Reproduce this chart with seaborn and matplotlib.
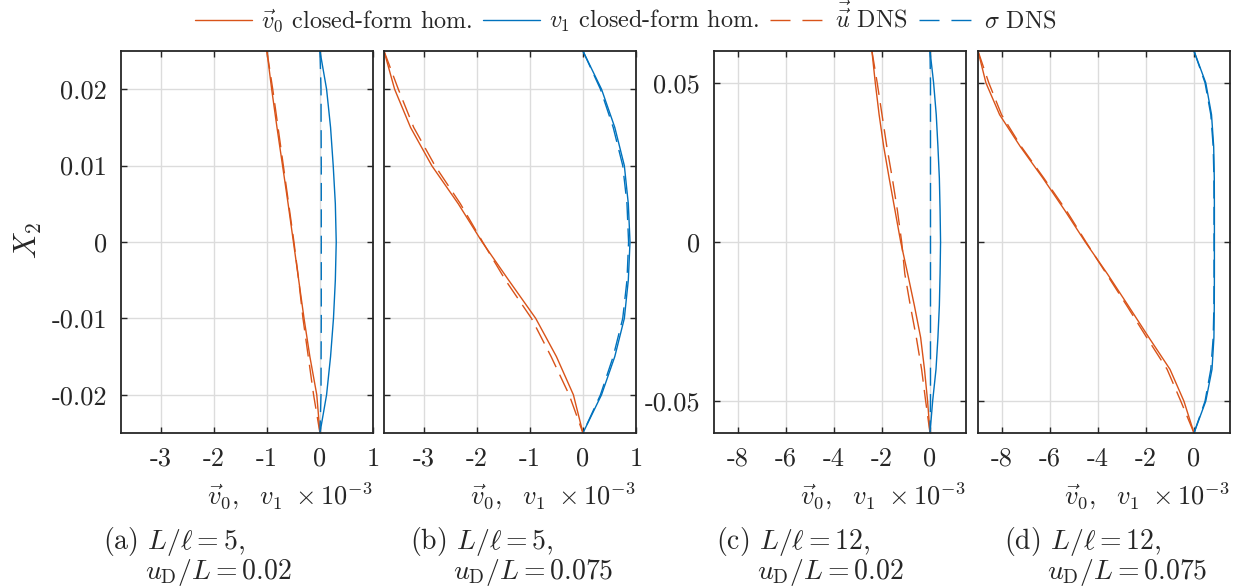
import matplotlib
matplotlib.use("Agg")
import matplotlib.pyplot as plt
from matplotlib.lines import Line2D
import seaborn as sns

# ---------------- data ----------------
Y_AB = [0.025, 0.02, 0.015, 0.01, 0.005, 0.0, -0.005, -0.01, -0.015, -0.02, -0.025]
Y_CD = [0.06, 0.05, 0.04, 0.03, 0.02, 0.01, 0.0, -0.01, -0.02, -0.03, -0.04, -0.05, -0.06]

# panel (a)  L/l = 5, uD/L = 0.02   (x values in units of 1e-3)
V0_A = [-1.0, -0.91, -0.81, -0.705, -0.60, -0.50, -0.40, -0.30, -0.19, -0.06, 0.0]
U_A = [-1.0, -0.89, -0.79, -0.69, -0.59, -0.49, -0.40, -0.32, -0.22, -0.12, 0.0]
V1_A = [0.0, 0.125, 0.20, 0.25, 0.29, 0.307, 0.29, 0.255, 0.20, 0.125, 0.0]
S_A = [0.0, 0.02, 0.022, 0.025, 0.025, 0.025, 0.025, 0.025, 0.022, 0.02, 0.0]

# panel (b)  L/l = 5, uD/L = 0.075
V0_B = [-3.75, -3.55, -3.25, -2.85, -2.35, -1.90, -1.40, -0.89, -0.50, -0.18, 0.0]
U_B = [-3.75, -3.48, -3.19, -2.79, -2.31, -1.89, -1.46, -0.97, -0.60, -0.26, 0.0]
V1_B = [0.0, 0.35, 0.60, 0.78, 0.855, 0.887, 0.855, 0.78, 0.60, 0.35, 0.0]
S_B = [0.0, 0.33, 0.57, 0.75, 0.83, 0.86, 0.83, 0.75, 0.57, 0.33, 0.0]

# panel (c)  L/l = 12, uD/L = 0.02
V0_C = [-2.42, -2.28, -2.12, -1.93, -1.70, -1.46, -1.22, -0.93, -0.65, -0.39, -0.23, -0.10, 0.0]
U_C = [-2.42, -2.20, -2.00, -1.80, -1.57, -1.36, -1.18, -1.05, -0.82, -0.57, -0.35, -0.18, 0.0]
V1_C = [0.0, 0.15, 0.26, 0.33, 0.39, 0.42, 0.44, 0.42, 0.39, 0.33, 0.25, 0.11, 0.0]
S_C = [0.0, 0.02, 0.02, 0.02, 0.02, 0.02, 0.02, 0.02, 0.02, 0.02, 0.02, 0.02, 0.0]

# panel (d)  L/l = 12, uD/L = 0.075
V0_D = [-9.0, -8.67, -8.10, -7.24, -6.29, -5.39, -4.53, -3.61, -2.74, -1.88, -1.00, -0.42, 0.0]
U_D = [-9.0, -8.55, -8.02, -7.20, -6.25, -5.33, -4.50, -3.65, -2.80, -1.97, -1.12, -0.55, 0.0]
V1_D = [0.0, 0.49, 0.73, 0.82, 0.845, 0.85, 0.85, 0.85, 0.845, 0.83, 0.75, 0.49, 0.0]
S_D = [0.0, 0.46, 0.70, 0.80, 0.83, 0.835, 0.835, 0.835, 0.83, 0.80, 0.70, 0.46, 0.0]

XTICKS_AB = [-3, -2, -1, 0, 1]
XTICKLABELS_AB = ["-3", "-2", "-1", "0", "1"]
XTICKS_CD = [-8, -6, -4, -2, 0]
XTICKLABELS_CD = ["-8", "-6", "-4", "-2", "0"]
YTICKS_AB = [-0.02, -0.01, 0.0, 0.01, 0.02]
YTICKLABELS_AB = ["-0.02", "-0.01", "0", "0.01", "0.02"]
YTICKS_CD = [-0.05, 0.0, 0.05]
YTICKLABELS_CD = ["-0.05", "0", "0.05"]

LEGEND_LABELS = [r"$\vec{v}_0$ closed-form hom.", r"$v_1$ closed-form hom.",
                 r"$\vec{\vec{u}}$ DNS", r"$\sigma$ DNS"]
CAPTION_1 = [r"(a) $L/\ell = 5$,", r"(b) $L/\ell = 5$,", r"(c) $L/\ell = 12$,", r"(d) $L/\ell = 12$,"]
CAPTION_2 = [r"$u_\mathrm{D}/L = 0.02$", r"$u_\mathrm{D}/L = 0.075$",
             r"$u_\mathrm{D}/L = 0.02$", r"$u_\mathrm{D}/L = 0.075$"]
XLABEL = r"$\vec{v}_0,\ \ v_1\ \times 10^{-3}$"
YLABEL = r"$X_2$"

# ---------------- style ----------------
sns.set_style("white")
plt.rcParams["font.family"] = ["cmr10", "DejaVu Serif"]
plt.rcParams["mathtext.fontset"] = "cm"
plt.rcParams["axes.unicode_minus"] = False
plt.rcParams["axes.formatter.use_mathtext"] = True

ORANGE = "#D95319"
BLUE = "#0072BD"
DARK = "#262626"
GRID = "#dcdcdc"
FS_TICK = 19
FS_LABEL = 19
FS_CAP = 20
FS_LEG = 17.4
LW = 1.0
DASH = (0, (13, 6))
LEG_DASH = (0, (14.4, 8.6))

W, H = 1239, 588
fig = plt.figure(figsize=(W / 100, H / 100), dpi=100)

lefts = [121, 384, 714, 978]
top_px, bot_px = 51, 433
width_px = 252

panels = [
    (Y_AB, V0_A, U_A, V1_A, S_A, (-3.75, 1.0), XTICKS_AB, XTICKLABELS_AB, (-0.025, 0.025), YTICKS_AB, YTICKLABELS_AB, True),
    (Y_AB, V0_B, U_B, V1_B, S_B, (-3.75, 1.0), XTICKS_AB, XTICKLABELS_AB, (-0.025, 0.025), YTICKS_AB, YTICKLABELS_AB, False),
    (Y_CD, V0_C, U_C, V1_C, S_C, (-9.0, 1.5), XTICKS_CD, XTICKLABELS_CD, (-0.06, 0.06), YTICKS_CD, YTICKLABELS_CD, True),
    (Y_CD, V0_D, U_D, V1_D, S_D, (-9.0, 1.5), XTICKS_CD, XTICKLABELS_CD, (-0.06, 0.06), YTICKS_CD, YTICKLABELS_CD, False),
]

caption_x1 = [103, 410, 716, 1004]
caption_x2 = [145, 453, 757, 1047]

for i, (Y, v0, u, v1, s, xl, xt, xtl, yl, yt, ytl, showy) in enumerate(panels):
    ax = fig.add_axes([lefts[i] / W, 1 - bot_px / H, width_px / W, (bot_px - top_px) / H])
    sns.lineplot(x=v0, y=Y, ax=ax, sort=False, estimator=None, orient="y",
                 color=ORANGE, lw=LW)
    sns.lineplot(x=v1, y=Y, ax=ax, sort=False, estimator=None, orient="y",
                 color=BLUE, lw=LW)
    sns.lineplot(x=u, y=Y, ax=ax, sort=False, estimator=None, orient="y",
                 color=ORANGE, lw=LW, linestyle=DASH)
    sns.lineplot(x=s, y=Y, ax=ax, sort=False, estimator=None, orient="y",
                 color=BLUE, lw=LW, linestyle=DASH)
    ax.set_xlim(*xl)
    ax.set_ylim(*yl)
    ax.set_xticks(xt)
    ax.set_xticklabels(xtl)
    ax.set_yticks(yt)
    if showy:
        ax.set_yticklabels(ytl)
    else:
        ax.set_yticklabels([])
    ax.set_xlabel("")
    ax.set_ylabel("")
    ax.grid(True, color=GRID, lw=1.0)
    ax.set_axisbelow(True)
    for sp in ax.spines.values():
        sp.set_visible(True)
        sp.set_color(DARK)
        sp.set_linewidth(1.3)
    ax.tick_params(direction="in", length=4, width=1.0, color=DARK,
                   top=True, right=True, bottom=True, left=True,
                   labelsize=FS_TICK, labelcolor=DARK, pad=10)
    ax.text(1.0, -0.165, XLABEL, transform=ax.transAxes, ha="right", va="center",
            fontsize=FS_LABEL, color=DARK)
    fig.text(caption_x1[i] / W, 1 - 541 / H, CAPTION_1[i], ha="left", va="center",
             fontsize=FS_CAP, color=DARK)
    fig.text(caption_x2[i] / W, 1 - 572 / H, CAPTION_2[i], ha="left", va="center",
             fontsize=FS_CAP, color=DARK)

fig.text(28 / W, 1 - 241 / H, YLABEL, rotation=90, ha="center", va="center",
         fontsize=FS_TICK + 3, color=DARK)

handles = [Line2D([], [], color=ORANGE, lw=LW),
           Line2D([], [], color=BLUE, lw=LW),
           Line2D([], [], color=ORANGE, lw=LW, linestyle=LEG_DASH),
           Line2D([], [], color=BLUE, lw=LW, linestyle=LEG_DASH)]
fig.legend(handles, LEGEND_LABELS, loc="center", bbox_to_anchor=(626 / W, 1 - 18 / H),
           ncol=4, frameon=False, fontsize=FS_LEG, handlelength=2.36, handletextpad=0.35,
           columnspacing=0.45, labelcolor=DARK)

fig.savefig("out.png", dpi=100)
